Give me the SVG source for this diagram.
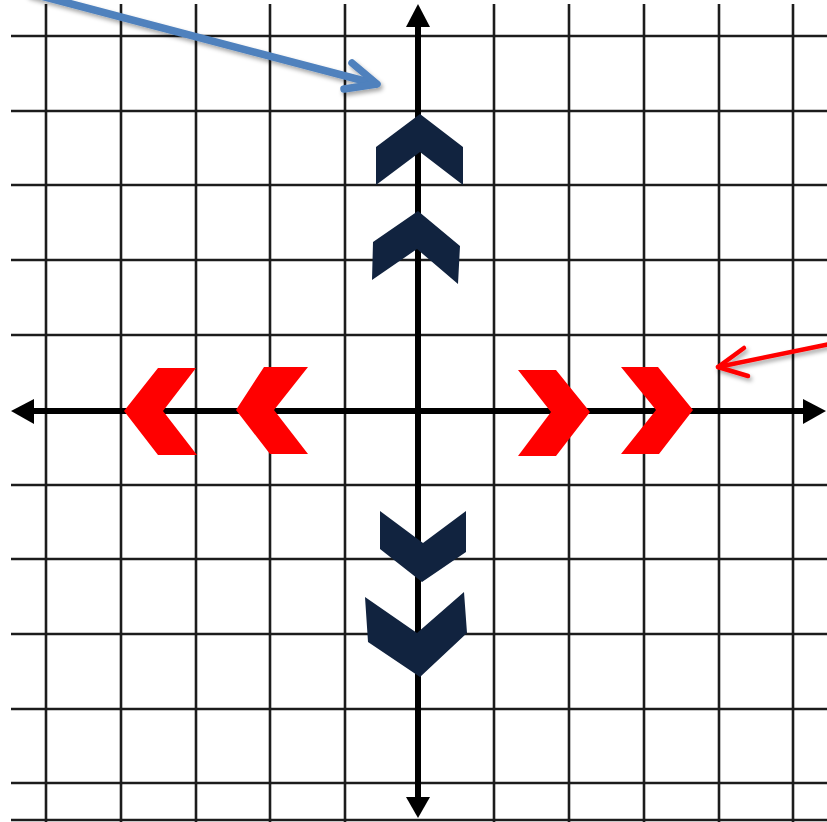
<svg xmlns="http://www.w3.org/2000/svg" width="827" height="822" viewBox="0 0 827 822">
<defs>
<style>
.grid line{stroke:#1e1e1e;stroke-width:2.6}
.axis{stroke:#000;stroke-width:6;fill:none}
.head{fill:#000}
.red{fill:#ff0000}
.navy{fill:#11233f}
</style>
<filter id="soft" x="-5%" y="-5%" width="110%" height="110%"><feGaussianBlur stdDeviation="0.5"/></filter>
<filter id="shadow" x="-10%" y="-20%" width="130%" height="160%"><feDropShadow dx="2" dy="3" stdDeviation="2" flood-color="#000" flood-opacity="0.35"/></filter>
</defs>
<rect width="827" height="822" fill="#fff"/>
<g id="grid" class="grid" filter="url(#soft)">
<line x1="46" y1="4" x2="46" y2="822"/>
<line x1="121" y1="4" x2="121" y2="822"/>
<line x1="196" y1="4" x2="196" y2="822"/>
<line x1="270" y1="4" x2="270" y2="822"/>
<line x1="345" y1="4" x2="345" y2="822"/>
<line x1="494" y1="4" x2="494" y2="822"/>
<line x1="569" y1="4" x2="569" y2="822"/>
<line x1="644" y1="4" x2="644" y2="822"/>
<line x1="719" y1="4" x2="719" y2="822"/>
<line x1="793" y1="4" x2="793" y2="822"/>
<line x1="11" y1="36" x2="827" y2="36"/>
<line x1="11" y1="111" x2="827" y2="111"/>
<line x1="11" y1="185" x2="827" y2="185"/>
<line x1="11" y1="260" x2="827" y2="260"/>
<line x1="11" y1="335" x2="827" y2="335"/>
<line x1="11" y1="485" x2="827" y2="485"/>
<line x1="11" y1="559" x2="827" y2="559"/>
<line x1="11" y1="634" x2="827" y2="634"/>
<line x1="11" y1="709" x2="827" y2="709"/>
<line x1="11" y1="783" x2="827" y2="783"/>
<line x1="11" y1="820" x2="827" y2="820"/>
</g>
<g id="axes" filter="url(#soft)">
<line class="axis" x1="418" y1="20" x2="418" y2="802"/>
<line class="axis" x1="28" y1="411" x2="808" y2="411"/>
<polygon class="head" points="418,4 406,27 430,27"/>
<polygon class="head" points="418,818 406,797 430,797"/>
<polygon class="head" points="11,411 34,399 34,424"/>
<polygon class="head" points="826,411 803,399 803,424"/>
</g>
<g id="chevron-left-1"><polygon class="red" points="124,411 158,368 196,368 163,411 197,455 158,455"/></g>
<g id="chevron-left-2"><polygon class="red" points="236,410 264,367 308,367 274,410 308,454 270,454"/></g>
<g id="chevron-right-1"><polygon class="red" points="518,370 556,370 590,412 556,456 518,456 551,412"/></g>
<g id="chevron-right-2"><polygon class="red" points="621,367 658,367 693,410 659,454 621,454 656,410"/></g>
<g id="chevron-up-1"><polygon class="navy" points="420,114 463,147 463,185 420,152 376,185 376,147"/></g>
<g id="chevron-up-2"><polygon class="navy" points="418,211 460,246 458,284 417,249 372,280 373,242"/></g>
<g id="chevron-down-1"><polygon class="navy" points="380,511 423,543 466,511 466,552 422,582 380,549"/></g>
<g id="chevron-down-2"><polygon class="navy" points="365,597 417,633 464,592 467,633 420,677 368,642"/></g>
<g id="connectors" fill="none" stroke-linecap="round" stroke-linejoin="round" filter="url(#shadow)">
<g id="blue-arrow" stroke="#4f81bd" stroke-width="7.5">
<line x1="30" y1="-7" x2="376" y2="84"/>
<polyline points="352,63 377,84 344,89"/>
</g>
<g id="red-arrow" stroke="#ff0000" stroke-width="4.5">
<line x1="830" y1="344" x2="718" y2="367"/>
<polyline points="744,348 718,367 748,376"/>
</g>
</g>
</svg>
